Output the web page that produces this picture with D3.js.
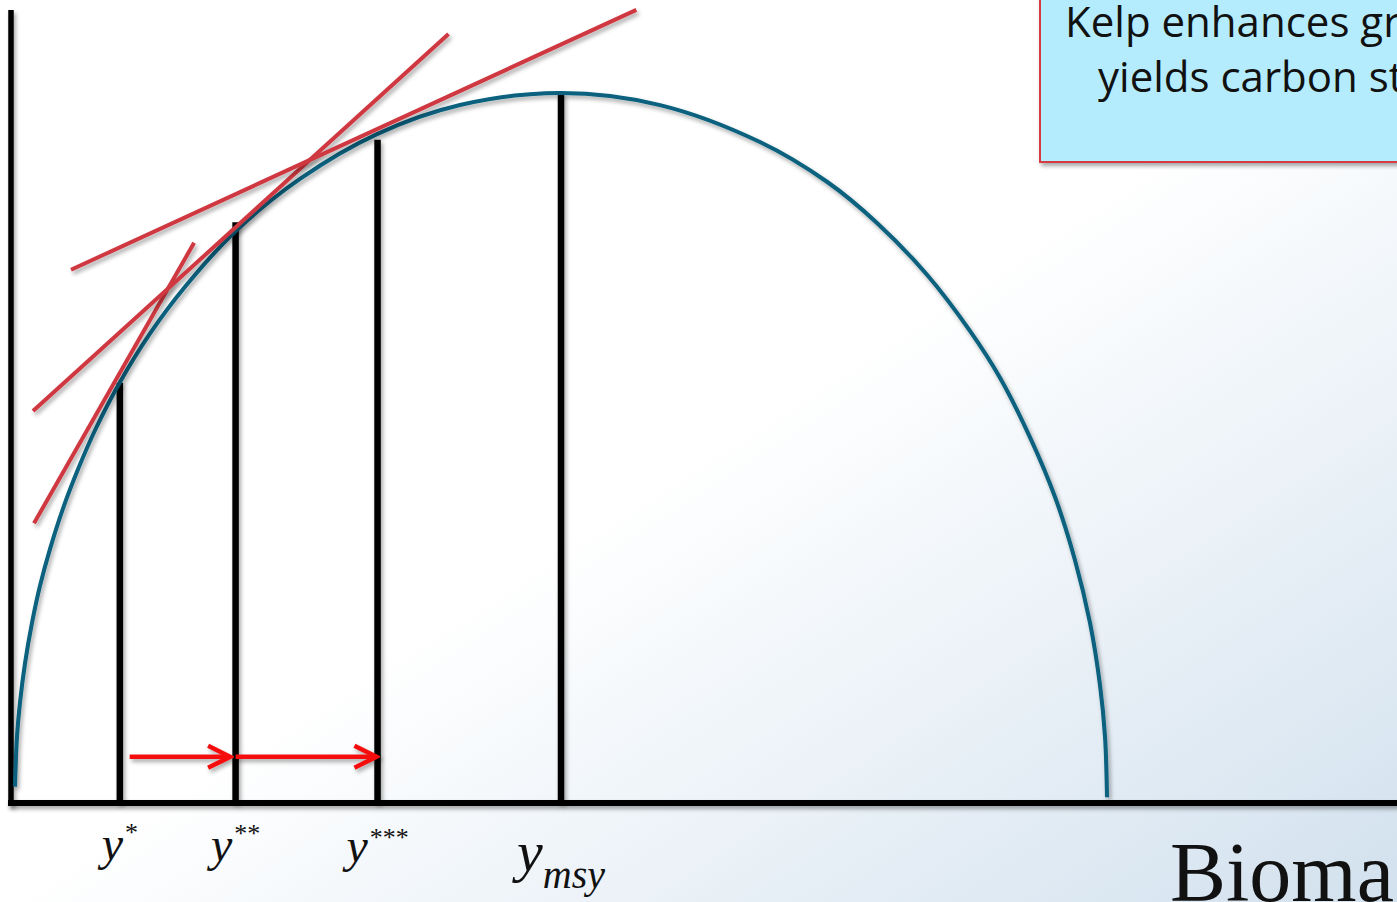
<!DOCTYPE html>
<html>
<script src="https://d3js.org/d3.v7.min.js"></script>

<head>
    <style>
        body {
            margin: 0;
            overflow: hidden;
            background: #fff;
        }

        svg {
            display: block;
        }
    </style>
</head>

<body>
</body>
<script>
    const width = 1397,
        height = 902;

    // production curve (biomass, yield)
    const curveBiomass = [0, 0.18, 0.46, 0.92, 1.56, 2.29, 3.21, 4.40, 5.77, 7.33, 9.62, 12.36, 15.57,
        20.24, 26.10, 33.15, 40.75, 50.0, 59.07, 68.22, 74.36, 78.94, 83.52, 87.45, 90.20, 92.95,
        95.24, 97.07, 98.44, 99.36, 99.82, 100];
    const curveYield = [2.3, 9.3, 14.2, 19.7, 25.4, 30.6, 35.8, 41.5, 47.0, 52.5, 59.3, 66.1, 72.7,
        80.6, 87.9, 94.2, 98.3, 100, 98.3, 93.1, 87.5, 81.7, 74.4, 66.5, 59.9, 51.5,
        43.1, 34.2, 25.4, 16.6, 9.3, 0.8];

    // harvest levels
    const harvestNames = ["*", "**", "***", "msy"];
    const harvestBiomass = [9.6, 20.2, 33.2, 50.0];
    const harvestYield = [59.2, 81.8, 93.4, 100];

    // tangent lines (start and end points)
    const tangentX0 = [1.74, 1.65, 5.13];
    const tangentY0 = [39.4, 55.2, 75.1];
    const tangentX1 = [16.4, 39.7, 56.9];
    const tangentY1 = [78.9, 108.3, 111.7];

    // red arrows along the bottom
    const arrowFrom = [10.5, 20.2];
    const arrowTo = [19.7, 33.1];
    const arrowLevel = 6.5;

    const boxLines = ["Kelp enhances growth,", "yields carbon storage"];
    const xLabel = "Biomass";

    const svg = d3.select("body").append("svg").attr("width", width).attr("height", height);
    const defs = svg.append("defs");

    const grad = defs.append("linearGradient").attr("id", "bg")
        .attr("x1", 0).attr("y1", 0).attr("x2", 1).attr("y2", 1);
    grad.append("stop").attr("offset", 0.5).attr("stop-color", "#ffffff");
    grad.append("stop").attr("offset", 1).attr("stop-color", "#d2e1ee");

    // user space region so that straight lines keep their shadow
    const shadow = defs.append("filter").attr("id", "shadow")
        .attr("filterUnits", "userSpaceOnUse")
        .attr("x", -50).attr("y", -50).attr("width", width + 100).attr("height", height + 100);
    shadow.append("feDropShadow")
        .attr("dx", 2).attr("dy", 3)
        .attr("stdDeviation", 2)
        .attr("flood-color", "#000")
        .attr("flood-opacity", 0.35);

    defs.append("marker")
        .attr("id", "chevron")
        .attr("markerUnits", "userSpaceOnUse")
        .attr("viewBox", "-26 -14 30 28")
        .attr("refX", 0).attr("refY", 0)
        .attr("markerWidth", 30).attr("markerHeight", 28)
        .attr("orient", "auto")
        .append("path")
        .attr("d", "M-22,-11L0,0L-22,11")
        .attr("fill", "none")
        .attr("stroke", "#f50f0f")
        .attr("stroke-width", 4.5);

    svg.append("rect")
        .attr("width", width).attr("height", height)
        .attr("fill", "url(#bg)");

    const x = d3.scaleLinear().domain([0, 100]).range([15, 1107]);
    const y = d3.scaleLinear().domain([0, 100]).range([803, 93]);

    // axes
    svg.append("line")
        .attr("x1", 11).attr("x2", 11)
        .attr("y1", 10).attr("y2", 806)
        .attr("stroke", "black").attr("stroke-width", 5.5)
        .attr("filter", "url(#shadow)");
    svg.append("line")
        .attr("x1", 8).attr("x2", width + 10)
        .attr("y1", 803).attr("y2", 803)
        .attr("stroke", "black").attr("stroke-width", 6)
        .attr("filter", "url(#shadow)");

    // vertical harvest bars
    svg.selectAll(".bar")
        .data(harvestBiomass)
        .join("line")
        .attr("class", "bar")
        .attr("x1", d => x(d)).attr("x2", d => x(d))
        .attr("y1", y(0))
        .attr("y2", (d, i) => y(harvestYield[i]))
        .attr("stroke", "black").attr("stroke-width", 6.5)
        .attr("filter", "url(#shadow)");

    // production curve
    const pts = curveBiomass.map((b, i) => [b, curveYield[i]]);
    svg.append("path")
        .datum(pts)
        .attr("fill", "none")
        .attr("stroke", "#07617e")
        .attr("stroke-width", 4)
        .attr("filter", "url(#shadow)")
        .attr("d", d3.line()
            .x(d => x(d[0]))
            .y(d => y(d[1]))
            .curve(d3.curveCatmullRom.alpha(0.5)));

    // tangents
    svg.selectAll(".tangent")
        .data(tangentX0)
        .join("line")
        .attr("class", "tangent")
        .attr("x1", d => x(d))
        .attr("y1", (d, i) => y(tangentY0[i]))
        .attr("x2", (d, i) => x(tangentX1[i]))
        .attr("y2", (d, i) => y(tangentY1[i]))
        .attr("stroke", "#cf3840")
        .attr("stroke-width", 4)
        .attr("filter", "url(#shadow)");

    // arrows
    svg.selectAll(".arrow")
        .data(arrowFrom)
        .join("line")
        .attr("class", "arrow")
        .attr("x1", d => x(d))
        .attr("x2", (d, i) => x(arrowTo[i]))
        .attr("y1", y(arrowLevel)).attr("y2", y(arrowLevel))
        .attr("stroke", "#f50f0f")
        .attr("stroke-width", 4.5)
        .attr("marker-end", "url(#chevron)")
        .attr("filter", "url(#shadow)");

    // labels under the bars
    const labels = svg.selectAll(".hlabel")
        .data(harvestNames)
        .join("text")
        .attr("class", "hlabel")
        .attr("x", (d, i) => x(harvestBiomass[i]))
        .attr("y", (d, i) => d === "msy" ? 871 : 860 + i)
        .attr("text-anchor", "middle")
        .attr("font-family", "'Liberation Serif', 'Times New Roman', serif")
        .attr("fill", "#111");
    labels.append("tspan")
        .attr("font-style", "italic")
        .attr("font-size", d => d === "msy" ? 58 : 48)
        .text("y");
    labels.append("tspan")
        .attr("font-style", d => d === "msy" ? "italic" : "normal")
        .attr("font-size", d => d === "msy" ? 40 : 26)
        .attr("dy", (d, i) => d === "msy" ? 17 : (i === 2 ? -16 : -19))
        .attr("dx", d => d === "msy" ? 0 : 2)
        .text(d => d);

    svg.append("text")
        .attr("x", 1170)
        .attr("y", 901)
        .attr("font-family", "'Liberation Serif', 'Times New Roman', serif")
        .attr("font-size", 84)
        .attr("fill", "#111")
        .text(xLabel);

    // text box top right
    svg.append("rect")
        .attr("x", 1040).attr("y", -10)
        .attr("width", 420).attr("height", 172)
        .attr("fill", "#b4ecfd")
        .attr("stroke", "#d53a41")
        .attr("stroke-width", 2)
        .attr("filter", "url(#shadow)");
    svg.selectAll(".boxline")
        .data(boxLines)
        .join("text")
        .attr("class", "boxline")
        .attr("x", (d, i) => i === 0 ? 1065 : 1098)
        .attr("y", (d, i) => i === 0 ? 37 : 92)
        .attr("font-family", "'Open Sans', Lato, sans-serif")
        .attr("font-size", 42)
        .attr("fill", "#111")
        .text(d => d);
</script>

</html>
